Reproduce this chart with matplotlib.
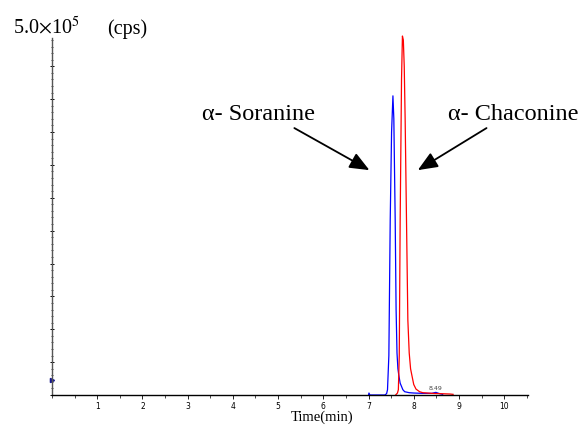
import matplotlib
matplotlib.use("Agg")
from matplotlib import pyplot as plt
from matplotlib.ticker import MultipleLocator
import numpy as np

# alpha-solanine trace (blue), time in min, intensity in cps
sol_time = [7.00, 7.01, 7.03, 7.36, 7.40, 7.42, 7.45, 7.48, 7.51, 7.54, 7.56,
            7.59, 7.61, 7.63, 7.65, 7.67, 7.70, 7.76, 7.80, 7.90, 8.00, 8.20,
            8.40, 8.49, 8.55, 8.64]
sol_cps = [0, 3000, 0, 0, 2000, 8000, 60000, 266000, 400000, 455000, 420000,
           266000, 130000, 64000, 40000, 30000, 18000, 8000, 5000, 3500, 3000,
           2500, 2500, 4000, 2500, 1000]

# alpha-chaconine trace (red)
cha_time = [7.60, 7.64, 7.66, 7.68, 7.70, 7.73, 7.75, 7.77, 7.79, 7.81, 7.84,
            7.87, 7.90, 7.93, 7.95, 8.00, 8.05, 8.13, 8.20, 8.40, 8.60, 8.80,
            8.87]
cha_cps = [0, 3000, 8000, 60000, 266000, 480000, 546000, 540000, 500000,
           420000, 266000, 114000, 64000, 40000, 33000, 16000, 9000, 5000,
           3500, 2500, 2000, 1500, 1000]

x_ticks = [1, 2, 3, 4, 5, 6, 7, 8, 9, 10]
peak_label = "8.49"
peak_label_pos = (8.49, 5500)

plt.rcParams["mathtext.fontset"] = "stix"
serif = ["Liberation Serif", "DejaVu Serif"]

fig = plt.figure(figsize=(5.81, 4.25), dpi=100)
ax = fig.add_axes([0.0895, 0.0706, 0.8195, 0.84])

ax.plot(sol_time, sol_cps, color="#0000ff", lw=0.9, clip_on=False)
ax.plot(cha_time, cha_cps, color="#ff0000", lw=0.9, clip_on=False)
ax.text(peak_label_pos[0], peak_label_pos[1], peak_label, fontsize=4.5,
        color="#444444", ha="center", va="bottom")

ax.set_xlim(0, 10.53)
ax.set_ylim(0, 5.43e5)
ax.set_xticks(x_ticks)
ax.set_xticklabels([str(t) for t in x_ticks])
ax.xaxis.set_minor_locator(MultipleLocator(0.5))
ax.yaxis.set_major_locator(MultipleLocator(5e4))
ax.yaxis.set_minor_locator(MultipleLocator(1e4))
ax.set_yticklabels([])

for s in ["top", "right"]:
    ax.spines[s].set_visible(False)
ax.spines["left"].set_color("#555555")
ax.spines["left"].set_linewidth(1.0)
ax.spines["bottom"].set_linewidth(1.0)

ax.tick_params(axis="x", which="major", direction="out", length=3, width=0.6,
               labelsize=5.5, pad=2)
ax.tick_params(axis="x", which="minor", direction="out", length=2, width=0.5)
ax.tick_params(axis="y", which="major", direction="inout", length=3, width=0.7)
ax.tick_params(axis="y", which="minor", direction="inout", length=1.5, width=0.5)

# small marker on the y axis
ax.plot([0], [22800], marker=">", ms=3, color="#1a1a8c", clip_on=False)

# annotations
ax.text(3.31, 418000, "α- Soranine", fontsize=17.5, family=serif,
        va="baseline", ha="left")
ax.text(8.75, 418000, "α- Chaconine", fontsize=17.5, family=serif,
        va="baseline", ha="left")
arrow = dict(arrowstyle="-|>,head_length=1.2,head_width=0.5", color="black",
             lw=1.3, mutation_scale=10, shrinkA=0, shrinkB=0)
ax.annotate("", xy=(7.02, 342000), xytext=(5.36, 406000), arrowprops=arrow)
ax.annotate("", xy=(8.09, 342000), xytext=(9.61, 406000), arrowprops=arrow)

fig.text(12.7 / 581, 1 - 34.3 / 425, r"5.0$\times$10$^5$", fontsize=14.5,
         family=serif, va="baseline", ha="left")
fig.text(107 / 581, 1 - 34.3 / 425, "(cps)", fontsize=14.5, family=serif,
         va="baseline", ha="left")
fig.text(322 / 581, 1 - 421 / 425, "Time(min)", fontsize=10.5, family=serif,
         va="baseline", ha="center")

fig.savefig("out.png", dpi=100)
